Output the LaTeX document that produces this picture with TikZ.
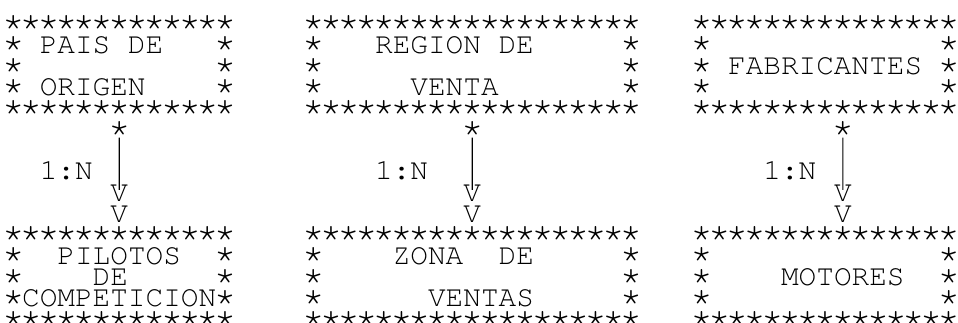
\documentclass[tikz,border=0pt]{standalone}
\usepackage[T1]{fontenc}
\usepackage{courier}
\usepackage{graphicx}
\tikzset{
  txt/.style={anchor=base west, inner sep=0pt, outer sep=0pt,
    font=\fontsize{22.05}{15.8}\selectfont\ttfamily, text=black},
  conn/.style={draw=black, line width=0.9pt}
}
\newcommand\sta{\makebox[0.6em][c]{\scalebox{1.3}{*}}}
\newcommand\starline[1]{\foreach \i in {1,...,#1}{\sta}}
\newcommand\tx[4]{\node[txt] (#1) at ({4.5+17.65*#2},{32.2+21.1*#3}) {#4};}
\begin{document}
\begin{tikzpicture}[x=0.75pt,y=-0.75pt]
\useasboundingbox (0,0) rectangle (958,322);
% ---------- left column ----------
\tx{La0}{0}{0}{\starline{13}}
\tx{La1l}{0}{1}{\sta}\tx{La1t}{2}{1}{PAIS DE}\tx{La1r}{12}{1}{\sta}
\tx{La2l}{0}{2}{\sta}\tx{La2r}{12}{2}{\sta}
\tx{La3l}{0}{3}{\sta}\tx{La3t}{2}{3}{ORIGEN}\tx{La3r}{12}{3}{\sta}
\tx{La4}{0}{4}{\starline{13}}
\tx{Ls}{6}{5}{\sta}
\tx{Lr}{2}{7}{1:N}
\tx{Lv}{6}{8}{V}
\tx{Lw}{6}{9}{V}
\tx{Lb0}{0}{10}{\starline{13}}
\tx{Lb1l}{0}{11}{\sta}\tx{Lb1t}{3}{11}{PILOTOS}\tx{Lb1r}{12}{11}{\sta}
\tx{Lb2l}{0}{12}{\sta}\tx{Lb2t}{5}{12}{DE}\tx{Lb2r}{12}{12}{\sta}
\tx{Lb3}{0}{13}{\sta COMPETICION\sta}
\tx{Lb4}{0}{14}{\starline{13}}
\draw[conn] (Ls.base) -- ([yshift=-4pt]Lv.north);
% ---------- middle column ----------
\tx{Ma0}{17}{0}{\starline{19}}
\tx{Ma1l}{17}{1}{\sta}\tx{Ma1t}{21}{1}{REGION DE}\tx{Ma1r}{35}{1}{\sta}
\tx{Ma2l}{17}{2}{\sta}\tx{Ma2r}{35}{2}{\sta}
\tx{Ma3l}{17}{3}{\sta}\tx{Ma3t}{23}{3}{VENTA}\tx{Ma3r}{35}{3}{\sta}
\tx{Ma4}{17}{4}{\starline{19}}
\tx{Ms}{26}{5}{\sta}
\tx{Mr}{21}{7}{1:N}
\tx{Mv}{26}{8}{V}
\tx{Mw}{26}{9}{V}
\tx{Mb0}{17}{10}{\starline{19}}
\tx{Mb1l}{17}{11}{\sta}\tx{Mb1t}{22}{11}{ZONA}\tx{Mb1u}{28}{11}{DE}\tx{Mb1r}{35}{11}{\sta}
\tx{Mb2l}{17}{12}{\sta}\tx{Mb2r}{35}{12}{\sta}
\tx{Mb3l}{17}{13}{\sta}\tx{Mb3t}{24}{13}{VENTAS}\tx{Mb3r}{35}{13}{\sta}
\tx{Mb4}{17}{14}{\starline{19}}
\draw[conn] (Ms.base) -- ([yshift=-4pt]Mv.north);
% ---------- right column ----------
\tx{Ra0}{39}{0}{\starline{15}}
\tx{Ra1l}{39}{1}{\sta}\tx{Ra1r}{53}{1}{\sta}
\tx{Ra2l}{39}{2}{\sta}\tx{Ra2t}{41}{2}{FABRICANTES}\tx{Ra2r}{53}{2}{\sta}
\tx{Ra3l}{39}{3}{\sta}\tx{Ra3r}{53}{3}{\sta}
\tx{Ra4}{39}{4}{\starline{15}}
\tx{Rs}{47}{5}{\sta}
\tx{Rr}{43}{7}{1:N}
\tx{Rv}{47}{8}{V}
\tx{Rw}{47}{9}{V}
\tx{Rb0}{39}{10}{\starline{15}}
\tx{Rb1l}{39}{11}{\sta}\tx{Rb1r}{53}{11}{\sta}
\tx{Rb2l}{39}{12}{\sta}\tx{Rb2t}{44}{12}{MOTORES}\tx{Rb2r}{53}{12}{\sta}
\tx{Rb3l}{39}{13}{\sta}\tx{Rb3r}{53}{13}{\sta}
\tx{Rb4}{39}{14}{\starline{15}}
\draw[conn] (Rs.base) -- ([yshift=-4pt]Rv.north);
\end{tikzpicture}
\end{document}
